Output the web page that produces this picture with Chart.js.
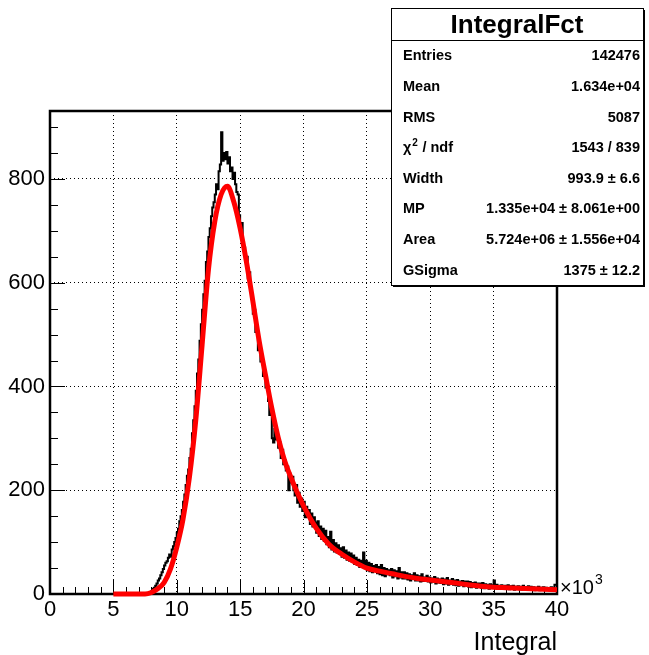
<!DOCTYPE html>
<html>
<head>
<meta charset="utf-8">
<script src="https://cdn.jsdelivr.net/npm/chart.js@4.4.0/dist/chart.umd.min.js"></script>
<style>
html, body { margin: 0; padding: 0; background: #fff; }
canvas { display: block; }
</style>
</head>
<body>
<canvas id="histChart" width="649" height="655"></canvas>
<script>
// histogram: counts per bin, x in units of 10^3
const histStart = 7.0;
const histBinWidth = 0.1;
const histCounts = [
    0, 0, 0, 0, 0, 0, 0, 0, 1, 3,
    4, 6, 10, 12, 16, 20, 26, 30, 36, 42,
    48, 55, 60, 63, 70, 76, 72, 86, 92, 100,
    108, 118, 126, 140, 150, 162, 178, 192, 210, 228,
    240, 262, 280, 310, 335, 362, 392, 425, 452, 488,
    520, 548, 578, 604, 640, 660, 688, 705, 728, 745,
    755, 770, 790, 780, 815, 828, 890, 835, 850, 838,
    852, 830, 842, 815, 822, 800, 812, 790, 775, 770,
    730, 700, 715, 680, 668, 640, 650, 608, 620, 585,
    578, 540, 548, 505, 512, 470, 482, 448, 455, 420,
    430, 398, 408, 372, 345, 360, 300, 292, 318, 298,
    306, 282, 292, 262, 278, 250, 258, 238, 246, 200,
    232, 215, 226, 200, 190, 210, 176, 195, 168, 184,
    160, 178, 148, 168, 150, 162, 135, 155, 130, 148,
    138, 118, 140, 112, 130, 106, 126, 102, 122, 96,
    110, 90, 120, 86, 104, 82, 98, 80, 94, 78,
    88, 72, 90, 70, 84, 66, 80, 64, 78, 62,
    74, 58, 70, 56, 66, 52, 64, 54, 80, 50,
    64, 46, 60, 44, 58, 42, 54, 48, 56, 40,
    52, 38, 56, 36, 50, 34, 48, 38, 46, 36,
    48, 32, 46, 34, 44, 30, 50, 32, 42, 30,
    42, 30, 40, 28, 38, 26, 36, 32, 40, 26,
    36, 26, 34, 24, 38, 25, 32, 28, 35, 24,
    32, 22, 30, 24, 33, 20, 30, 22, 28, 21,
    30, 19, 28, 20, 31, 18, 26, 20, 29, 18,
    26, 17, 27, 16, 24, 19, 25, 15, 24, 17,
    24, 14, 23, 13, 21, 16, 22, 12, 20, 14,
    20, 12, 21, 11, 19, 13, 18, 10, 19, 12,
    17, 26, 11, 18, 10, 16, 12, 17, 11, 15,
    16, 10, 17, 9, 15, 11, 16, 8, 14, 10,
    15, 9, 14, 8, 16, 10, 13, 8, 15, 9,
    14, 8, 13, 7, 12, 9, 14, 7, 12, 8,
    13, 7, 12, 8, 11, 7, 13, 9, 12, 18
];

// fitted Landau x Gauss curve
const fitX = [5, 5.5, 6, 6.5, 7, 7.5, 8, 8.5, 9, 9.5, 10, 10.5, 11, 11.5, 12, 12.5, 13, 13.5, 14, 14.5,
    15, 15.5, 16, 16.5, 17, 17.5, 18, 18.5, 19, 19.5, 20, 21, 22, 23, 24, 25, 26, 27, 28, 29,
    30, 31, 32, 33, 34, 35, 36, 37, 38, 39, 40];
const fitY = [0, 0, 0, 0, 0, 0, 3, 10, 22, 48, 90, 145, 225, 335, 480, 625, 718, 770, 786, 756,
    705, 640, 565, 488, 422, 358, 302, 258, 225, 196, 170, 127, 96, 77, 62, 50, 44, 39, 34, 30,
    27, 24, 21, 18, 15, 13, 12, 11, 10, 9, 8];

const xMajorTicks = [0, 5, 10, 15, 20, 25, 30, 35, 40];
const xMinorStep = 1;
const yMajorTicks = [0, 200, 400, 600, 800];
const yMinorStep = 50;
const xMax = 40;
const yMax = 931;

const statsTitle = 'IntegralFct';
const statsLabels = ['Entries', 'Mean', 'RMS', 'χ2 / ndf', 'Width', 'MP', 'Area', 'GSigma'];
const statsValues = ['142476', '1.634e+04', '5087', '1543 / 839', '993.9 ± 6.6',
    '1.335e+04 ± 8.061e+00', '5.724e+06 ± 1.556e+04', '1375 ± 12.2'];

const FONT = '"Liberation Sans", Arial, Helvetica, sans-serif';

const histPoints = histCounts.map((c, i) => ({ x: histStart + i * histBinWidth, y: c }));
histPoints.push({ x: xMax, y: histCounts[histCounts.length - 1] });
const fitPoints = fitX.map((x, i) => ({ x: x, y: fitY[i] }));

// ROOT style frame + inward ticks, stats box, axis title
const rootDecor = {
    id: 'rootDecor',
    beforeDatasetsDraw(chart) {
        const { ctx, chartArea: a, scales: { x, y } } = chart;
        ctx.save();
        ctx.strokeStyle = '#000';
        ctx.lineWidth = 1;
        ctx.beginPath();
        for (let v = 0; v <= xMax + 1e-9; v += xMinorStep) {
            const px = Math.round(x.getPixelForValue(v)) + 0.5;
            const len = xMajorTicks.includes(v) ? 14 : 7;
            ctx.moveTo(px, a.bottom);
            ctx.lineTo(px, a.bottom - len);
        }
        for (let v = 0; v <= yMax; v += yMinorStep) {
            const py = Math.round(y.getPixelForValue(v)) + 0.5;
            const len = yMajorTicks.includes(v) ? 15 : 8;
            ctx.moveTo(a.left, py);
            ctx.lineTo(a.left + len, py);
        }
        ctx.stroke();
        ctx.lineWidth = 2.5;
        ctx.strokeRect(a.left, a.top, a.right - a.left, a.bottom - a.top);
        ctx.restore();
    },
    afterDraw(chart) {
        const { ctx, chartArea: a } = chart;
        ctx.save();
        ctx.fillStyle = '#000';

        // x10^3 and axis title
        ctx.textBaseline = 'alphabetic';
        ctx.textAlign = 'left';
        ctx.font = '20px ' + FONT;
        ctx.fillText('×10', a.right + 3, a.bottom);
        const w = ctx.measureText('×10').width;
        ctx.font = '14px ' + FONT;
        ctx.fillText('3', a.right + 3 + w + 1, a.bottom - 10);
        ctx.font = '25px ' + FONT;
        ctx.textAlign = 'right';
        ctx.fillText('Integral', a.right, 650);

        // stats box
        const bx = 391, by = 8, bw = 252, bh = 277, head = 32;
        ctx.fillRect(bx + 2, by + 2, bw, bh);
        ctx.fillStyle = '#fff';
        ctx.fillRect(bx, by, bw, bh);
        ctx.strokeStyle = '#000';
        ctx.lineWidth = 1;
        ctx.strokeRect(bx + 0.5, by + 0.5, bw, bh);
        ctx.beginPath();
        ctx.moveTo(bx, by + head + 0.5);
        ctx.lineTo(bx + bw, by + head + 0.5);
        ctx.stroke();

        ctx.fillStyle = '#000';
        ctx.textAlign = 'center';
        ctx.font = 'bold 26px ' + FONT;
        ctx.fillText(statsTitle, bx + bw / 2, by + 25);

        const rowH = (bh - head) / statsLabels.length;
        statsLabels.forEach((lab, i) => {
            const cy = by + head + rowH * (i + 0.5) + 5;
            ctx.font = 'bold 14.5px ' + FONT;
            ctx.textAlign = 'left';
            if (lab.startsWith('χ2')) {
                ctx.fillText('χ', 403, cy);
                const cw = ctx.measureText('χ').width;
                ctx.font = 'bold 10px ' + FONT;
                ctx.fillText('2', 403 + cw + 1, cy - 6);
                ctx.font = 'bold 14.5px ' + FONT;
                ctx.fillText(lab.slice(2), 403 + cw + 7, cy);
            } else {
                ctx.fillText(lab, 403, cy);
            }
            ctx.textAlign = 'right';
            ctx.fillText(statsValues[i], 640, cy);
        });
        ctx.restore();
    }
};

const ctx = document.getElementById('histChart').getContext('2d');
const histChart = new Chart(ctx, {
    type: 'line',
    data: {
        datasets: [
            {
                label: 'fit',
                data: fitPoints,
                borderColor: '#ff0000',
                borderWidth: 5,
                pointRadius: 0,
                cubicInterpolationMode: 'monotone',
                clip: false,
                order: 0
            },
            {
                label: 'IntegralFct',
                data: histPoints,
                borderColor: '#000',
                borderWidth: 2,
                pointRadius: 0,
                stepped: 'after',
                clip: false,
                order: 1
            }
        ]
    },
    options: {
        responsive: false,
        animation: false,
        devicePixelRatio: 1,
        layout: { padding: { left: 0, right: 92, top: 111, bottom: 0 } },
        plugins: { legend: { display: false }, tooltip: { enabled: false } },
        scales: {
            x: {
                type: 'linear',
                min: 0,
                max: xMax,
                afterBuildTicks: axis => { axis.ticks = xMajorTicks.map(v => ({ value: v })); },
                afterFit: axis => { axis.height = 61; },
                grid: { color: '#000', lineWidth: 1, drawTicks: false },
                border: { display: false, dash: [1, 3] },
                ticks: {
                    autoSkip: false,
                    maxRotation: 0,
                    padding: 3,
                    color: '#000',
                    font: { family: FONT, size: 22 }
                }
            },
            y: {
                type: 'linear',
                min: 0,
                max: yMax,
                afterBuildTicks: axis => { axis.ticks = yMajorTicks.map(v => ({ value: v })); },
                afterFit: axis => { axis.width = 50; },
                grid: { color: '#000', lineWidth: 1, drawTicks: false },
                border: { display: false, dash: [1, 3] },
                ticks: {
                    padding: 5,
                    color: '#000',
                    font: { family: FONT, size: 22 }
                }
            }
        }
    },
    plugins: [rootDecor]
});
</script>
</body>
</html>
